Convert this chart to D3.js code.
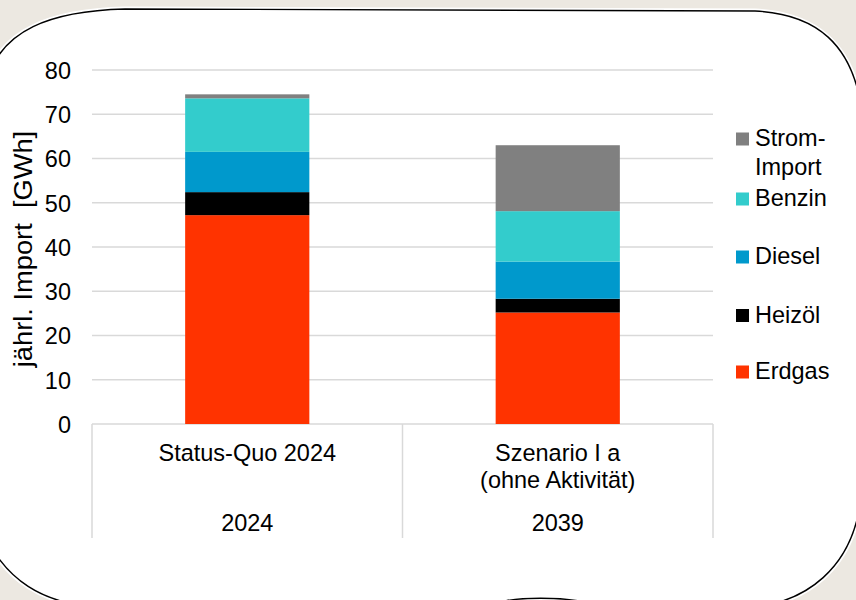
<!DOCTYPE html>
<html><head><meta charset="utf-8">
<script src="https://cdn.jsdelivr.net/npm/d3@7"></script>
<style>
html,body{margin:0;padding:0;background:#ECE8E1;}
svg{display:block;font-family:"Liberation Sans",Arial,sans-serif;}
</style></head>
<body>
<svg id="chart" width="856" height="600"></svg>
<script>
const categories = ["Status-Quo 2024", "Szenario I a\n(ohne Aktivität)"];
const years = ["2024", "2039"];
const seriesNames = ["Erdgas", "Heizöl", "Diesel", "Benzin", "Strom-Import"];
const erdgas = [47.2, 25.2];
const heizoel = [5.2, 3.1];
const diesel = [9.1, 8.4];
const benzin = [12.1, 11.4];
const stromImport = [0.9, 14.9];
const yTicks = [0, 10, 20, 30, 40, 50, 60, 70, 80];
const colors = ["#FF3300", "#000000", "#0099CC", "#33CCCC", "#808080"];
const legendLabels = [["Strom-", "Import"], ["Benzin"], ["Diesel"], ["Heizöl"], ["Erdgas"]];

const seriesValues = [erdgas, heizoel, diesel, benzin, stromImport];
const rows = categories.map((c, i) => {
  const r = {cat: c};
  seriesNames.forEach((s, j) => r[s] = seriesValues[j][i]);
  return r;
});

const FS = 23.5, SY = 1.05;
const svg = d3.select("#chart");
svg.append("rect").attr("width", 856).attr("height", 600).attr("fill", "#ECE8E1");
const shape = "M -10,72 C 5,33 45,11 125,9 L 755,11 C 820,14 850,48 860,100 L 860,505 C 850,570 805,600 760,606 L 585,602 C 560,597 520,597 500,602 L 85,606 C 40,600 10,580 -10,545 Z";
svg.append("path").attr("d", shape).attr("fill", "#fff").attr("stroke", "#fff").attr("stroke-width", 5);
svg.append("path").attr("d", shape).attr("fill", "#fff").attr("stroke", "#000").attr("stroke-width", 1.4);

function label(g, px, py, txt, anchor) {
  return g.append("text").attr("transform", `translate(${px},${py}) scale(1,${SY})`)
    .attr("text-anchor", anchor || "start").attr("font-size", FS).attr("fill", "#000").text(txt);
}

const pLeft = 92, pRight = 713, pTop = 70, pBottom = 424;
const x = d3.scaleBand().domain(categories).range([pLeft, pRight]).paddingInner(0.6).paddingOuter(0.3);
const y = d3.scaleLinear().domain([0, 80]).range([pBottom, pTop]);

svg.append("g").selectAll("line").data(yTicks).join("line")
  .attr("x1", pLeft).attr("x2", pRight)
  .attr("y1", d => y(d)).attr("y2", d => y(d))
  .attr("stroke", "#D9D9D9").attr("stroke-width", 1.5);

const yAxis = d3.axisLeft(y).tickValues(yTicks).tickSize(0).tickPadding(0);
const yg = svg.append("g").attr("transform", `translate(${pLeft - 21},0)`).call(yAxis);
yg.select(".domain").remove();
yg.selectAll("text").attr("font-size", FS).attr("fill", "#000")
  .attr("font-family", "Liberation Sans, Arial, sans-serif").attr("dy", "0.36em")
  .attr("transform", `scale(1,${SY})`).attr("y", function(){ return 0; });
yg.selectAll(".tick").attr("transform", d => `translate(0,${y(d)})`);

const stack = d3.stack().keys(seriesNames)(rows);
svg.append("g").selectAll("g").data(stack).join("g")
  .attr("fill", (d, i) => colors[i])
  .selectAll("rect").data(d => d).join("rect")
  .attr("x", d => x(d.data.cat))
  .attr("width", x.bandwidth())
  .attr("y", d => y(d[1]))
  .attr("height", d => y(d[0]) - y(d[1]));

const step = (pRight - pLeft) / categories.length;
const dividers = d3.range(categories.length + 1).map(i => pLeft + i * step);
svg.append("g").selectAll("line").data(dividers).join("line")
  .attr("x1", d => d).attr("x2", d => d).attr("y1", pBottom).attr("y2", 538)
  .attr("stroke", "#D9D9D9").attr("stroke-width", 1.5);

const cg = svg.append("g");
categories.forEach((c, i) => {
  const cx = x(c) + x.bandwidth() / 2;
  c.split("\n").forEach((l, k) => label(cg, cx, 461 + k * 27, l, "middle"));
  label(cg, cx, 531, years[i], "middle");
});

svg.append("text").attr("transform", "translate(32,249) rotate(-90) scale(1.07,1)")
  .attr("text-anchor", "middle").attr("font-size", 25.5).attr("fill", "#000")
  .style("white-space", "pre").text("jährl. Import  [GWh]");

const legendColors = colors.slice().reverse();
const legendBase = [146, 206, 264, 322.5, 379];
const lg = svg.append("g");
legendLabels.forEach((lab, i) => {
  const by = legendBase[i];
  lg.append("rect").attr("x", 736).attr("y", by - 13.5).attr("width", 13).attr("height", 13).attr("fill", legendColors[i]);
  lab.forEach((l, k) => label(lg, 755, by + k * 29, l));
});
</script>
</body></html>
